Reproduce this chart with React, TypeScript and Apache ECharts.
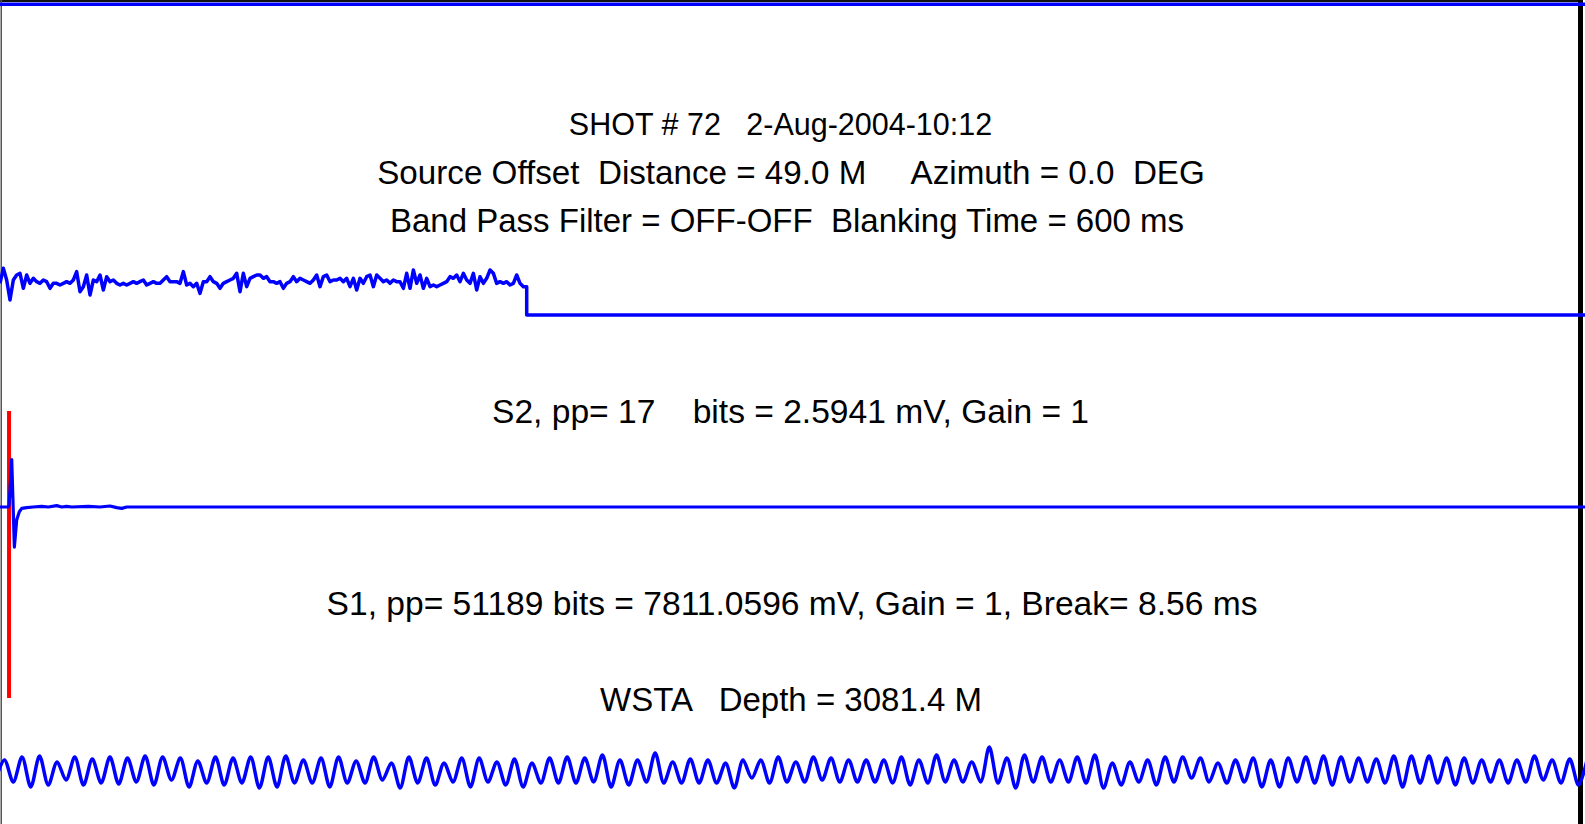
import React, { useEffect, useRef } from "react";
import * as echarts from "echarts";

// Time axis (ms) shared by all traces
const X_MAX = 1502;
const BREAK_MS = 8.56;

// S2 trace: noisy record sampled every S2_DT ms, then blanked (flat) level
const S2_DT = 3.159;
const S2_NOISE = [
  0, 45, 10, -50, 10, 25, 30, -15, 25, 0, 15, 5, 0, 10, 5, -15, 0, 0, -5, 0,
  5, 0, 10, 35, -25, -10, 25, -35, 10, 5, 25, -20, 20, 5, 10, 0, -5, 0, -5, 0,
  5, 0, 5, 10, -5, 0, 5, 0, 0, 10, 20, 5, 5, 5, 0, 35, -5, 0, -10, 0,
  -30, 5, 5, 20, 5, 0, -15, 0, 5, 10, 15, 30, -25, 30, -10, 15, 20, 25, 25, 15,
  20,
  5, 5, 0, 5, -15, 0, 5, 20, 5, 15, 10, 5, 0, 10, 25, -10, 20, 25, 5, 10,
  10, 15, 5, 15, -10, 15, -20, 15, 0, 20, 25, -10, 25, 15, 5, 10, 0, 10, 5, 5,
  -15, 30, -15, 40, 0, 25, -15, 15, -10, -5, -10, -5, 0, 5, 20, 15, 25, 5, 30, 10,
  0, 30, -20, 20, 0, 15, 40, 30, 0, 5, 0, 5, -5, 0, 25, 0, -10, -10,
];
const S2_BLANK_LEVEL = -95;

// S1 trace (mV): time/value pairs around the first break
const S1_T = [0, 7.9, 8.6, 11.1, 13.6, 15.8, 18.3, 20.6, 25.3, 31.3, 39.5, 45.8, 53.7, 58.5, 63.2, 68, 83.7, 94.8, 104.2, 110.6, 115.3, 120.1, 1502];
const S1_V = [0, 0, 150, 4236, -3575, -1160, -420, -120, -60, 0, 60, 0, 120, 0, 60, 0, 60, 0, 90, -60, -120, 0, 0];

// WSTA trace: alternating peaks and troughs, half-period sampling
const WSTA_T0 = -4.1667;
const WSTA_DT = 8.3333;
const WSTA_START = -8;
const WSTA_END = 12;
const WSTA_PEAKS = [
  11, 14, 15, 9, 14, 12, 14, 13, 15, 14, 13, 10, 14, 13, 14, 14, 15,
  11, 13, 14, 10, 14, 8, 14, 13, 8, 13, 13, 9, 12, 8, 13, 14, 13, 16, 11, 11, 18, 9, 12,
  11, 8, 11, 11, 14, 9, 14, 13, 11, 11, 11, 14, 11, 16, 11, 9, 24, 13, 16, 14, 11, 14,
  16, 8, 9, 11, 14, 14, 13, 8, 11, 13, 11, 13, 14,
  15, 14, 13, 12, 15, 15, 15, 13, 13, 11, 11, 11, 15, 11, 12,
];
const WSTA_TROUGHS = [
  -11, -16, -14, -9, -14, -12, -13, -11, -14, -9, -16, -12, -14, -12, -17, -16, -12,
  -12, -16, -12, -12, -9, -17, -12, -14, -11, -16, -11, -14, -16, -12, -12, -12, -11, -16, -14, -11, -12, -12,
  -12, -12, -17, -7, -12, -11, -11, -9, -11, -11, -11, -12, -14, -12, -11, -11, -11, -12, -17, -11, -11, -11,
  -12, -17, -14, -11, -14, -11, -7, -11, -12, -11, -16, -16, -11, -12,
  -14, -11, -11, -12, -16, -12, -12, -14, -12, -11, -12, -11, -9, -12, -14,
];

const LABELS = [
  "SHOT # 72   2-Aug-2004-10:12",
  "Source Offset  Distance = 49.0 M     Azimuth = 0.0  DEG",
  "Band Pass Filter = OFF-OFF  Blanking Time = 600 ms",
  "S2, pp= 17    bits = 2.5941 mV, Gain = 1",
  "S1, pp= 51189 bits = 7811.0596 mV, Gain = 1, Break= 8.56 ms",
  "WSTA   Depth = 3081.4 M",
];

const FONT_FAMILY = '"Liberation Sans", Arial, Helvetica, sans-serif';

function buildOption() {
  const s2Data: number[][] = S2_NOISE.map((v, i) => [i * S2_DT, v]);
  const lastT = (S2_NOISE.length - 1) * S2_DT;
  s2Data.push([lastT, S2_BLANK_LEVEL]);
  s2Data.push([X_MAX, S2_BLANK_LEVEL]);

  const s1Data = S1_T.map((t, i) => [t, S1_V[i]]);

  const wValues: number[] = [WSTA_START];
  WSTA_PEAKS.forEach((p, k) => {
    wValues.push(p);
    wValues.push(WSTA_TROUGHS[k]);
  });
  wValues.push(WSTA_END);
  const wData = wValues.map((v, i) => [WSTA_T0 + i * WSTA_DT, v]);

  const blue = "#0000ff";
  const lineBase = { type: "line", showSymbol: false, symbol: "none", silent: true, clip: true };

  const texts = [
    { t: LABELS[0], x: 780.5, y: 124, size: 30.5 },
    { t: LABELS[1], x: 791, y: 172, size: 33.2 },
    { t: LABELS[2], x: 787, y: 220, size: 33 },
    { t: LABELS[3], x: 790.5, y: 411, size: 33.6 },
    { t: LABELS[4], x: 792, y: 603, size: 33.6 },
    { t: LABELS[5], x: 791, y: 699, size: 33 },
  ];

  return {
    animation: false,
    backgroundColor: "#ffffff",
    grid: [
      { left: 0, right: 0, top: 233.33, height: 100 },
      { left: 0, right: 0, top: 451, height: 112 },
      { left: 0, right: 0, top: 746, height: 50 },
      { left: 0, right: 0, top: 411, height: 287 },
    ],
    xAxis: [0, 1, 2, 3].map((g) => ({ type: "value", gridIndex: g, min: 0, max: X_MAX, show: false })),
    yAxis: [
      { type: "value", gridIndex: 0, min: -150, max: 150, show: false },
      { type: "value", gridIndex: 1, min: -5000, max: 5000, show: false },
      { type: "value", gridIndex: 2, min: -25, max: 25, show: false },
      { type: "value", gridIndex: 3, min: 0, max: 1, show: false },
    ],
    series: [
      {
        ...lineBase,
        name: "pick",
        xAxisIndex: 3,
        yAxisIndex: 3,
        z: 1,
        data: [[BREAK_MS, 0], [BREAK_MS, 1]],
        lineStyle: { color: "#ff0000", width: 4 },
      },
      {
        ...lineBase,
        name: "S2",
        xAxisIndex: 0,
        yAxisIndex: 0,
        z: 5,
        data: s2Data,
        lineStyle: { color: blue, width: 3.5, join: "round" },
      },
      {
        ...lineBase,
        name: "S1",
        xAxisIndex: 1,
        yAxisIndex: 1,
        z: 5,
        data: s1Data,
        lineStyle: { color: blue, width: 3.2, join: "round" },
      },
      {
        ...lineBase,
        name: "WSTA",
        xAxisIndex: 2,
        yAxisIndex: 2,
        z: 5,
        smooth: 0.3,
        data: wData,
        lineStyle: { color: blue, width: 3.5, join: "round" },
      },
    ],
    graphic: [
      { type: "rect", z: 0, shape: { x: 0, y: 0, width: 1583, height: 2 }, style: { fill: "#111" } },
      { type: "rect", z: 0, shape: { x: 0.5, y: 0, width: 1.5, height: 824 }, style: { fill: "#555" } },
      { type: "rect", z: 0, shape: { x: 1578, y: 0, width: 5, height: 824 }, style: { fill: "#000" } },
      { type: "rect", z: 10, shape: { x: 0, y: 2.5, width: 1585, height: 3.5 }, style: { fill: "#0000ff" } },
      ...texts.map((d) => ({
        type: "text",
        z: 10,
        x: d.x,
        y: d.y,
        style: {
          text: d.t,
          fontSize: d.size,
          fontFamily: FONT_FAMILY,
          fill: "#000",
          align: "center",
          verticalAlign: "middle",
          textAlign: "center",
          textVerticalAlign: "middle",
        },
      })),
    ],
  };
}

export default function App() {
  const ref = useRef<HTMLDivElement>(null);
  useEffect(() => {
    if (!ref.current) return;
    const chart = echarts.init(ref.current, null, { renderer: "svg" });
    chart.setOption(buildOption() as any);
    return () => chart.dispose();
  }, []);
  return (
    <div
      ref={ref}
      style={{ position: "absolute", left: 0, top: 0, width: 1585, height: 824, background: "#fff" }}
    />
  );
}
